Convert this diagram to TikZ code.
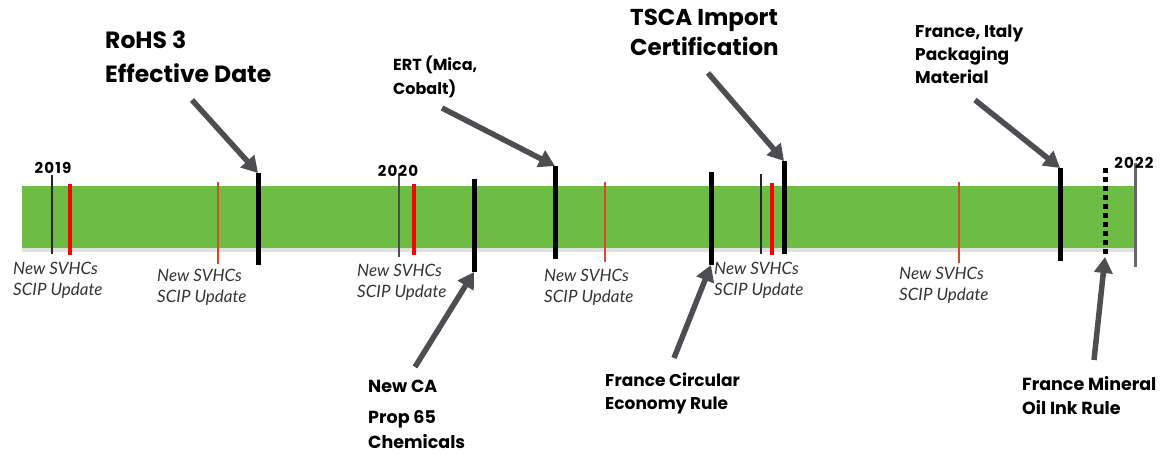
\documentclass[tikz,border=0pt]{standalone}
\usepackage{fontspec}
\setmainfont{Poppins}
\newfontfamily\svhcfont{Lato}
\usetikzlibrary{arrows.meta}
\definecolor{bargreen}{HTML}{6DBD45}
\definecolor{arrowgray}{HTML}{4D4D52}
\definecolor{svhcred}{HTML}{D84A2A}
\definecolor{svhctext}{HTML}{333333}
\newcommand{\yk}{\kern1.2pt}
\tikzset{
  biglabel/.style={font={\bfseries\fontsize{23.5}{34}\selectfont}, align=left, inner sep=0pt, anchor=north west},
  midlabel/.style={font={\bfseries\fontsize{17}{23}\selectfont}, align=left, inner sep=0pt, anchor=north west},
  yearlabel/.style={font={\bfseries\fontsize{15}{17}\selectfont}, inner sep=0pt, anchor=base},
  svhc/.style={font={\svhcfont\itshape\fontsize{17}{21}\selectfont}, text=svhctext, align=left, inner sep=0pt, anchor=north west},
  thickmark/.style={line width=5pt, black},
  thinmark/.style={line width=2pt, black!85},
  redmark/.style={line width=4pt, red},
  svhcmark/.style={line width=2pt, svhcred},
  dotmark/.style={line width=5pt, black, dash pattern=on 5pt off 4pt},
  endmark/.style={line width=3pt, black!60},
  callout/.style={line width=5.5pt, arrowgray, -{Triangle[length=16pt,width=18pt]}},
}
\begin{document}
\begin{tikzpicture}[x=1pt,y=-1pt]
\useasboundingbox (0,0) rectangle (1165,455);
% bar with shadow
\fill[black!12] (22,246) rectangle (1135,252);
\fill[bargreen] (22,186) rectangle (1135,248);

% marker coordinates
\coordinate (y19t) at (52,175);   \coordinate (y19b) at (52,254);
\coordinate (r1t) at (70,184);    \coordinate (r1b) at (70,255);
\coordinate (s2t) at (218,182);   \coordinate (s2b) at (218,264);
\coordinate (rohst) at (258,173); \coordinate (rohsb) at (258,265);
\coordinate (y20t) at (399,173);  \coordinate (y20b) at (399,257);
\coordinate (r3t) at (414,184);   \coordinate (r3b) at (414,255);
\coordinate (cat) at (474,179);   \coordinate (cab) at (474,272);
\coordinate (ertt) at (555,166);  \coordinate (ertb) at (555,259);
\coordinate (s4t) at (605,182);   \coordinate (s4b) at (605,262);
\coordinate (fct) at (711,172);   \coordinate (fcb) at (711,265);
\coordinate (tht) at (761,174);   \coordinate (thb) at (761,254);
\coordinate (r5t) at (772,183);   \coordinate (r5b) at (772,255);
\coordinate (tsct) at (784,161);  \coordinate (tscb) at (784,254);
\coordinate (s6t) at (959,182);   \coordinate (s6b) at (959,263);
\coordinate (fit) at (1060,168);  \coordinate (fib) at (1060,261);
\coordinate (mot) at (1105,168);  \coordinate (mob) at (1105,257);
\coordinate (y22t) at (1135,163); \coordinate (y22b) at (1135,267);

\draw[thinmark] (y19t) -- (y19b);
\draw[redmark] (r1t) -- (r1b);
\draw[svhcmark] (s2t) -- (s2b);
\draw[thickmark] (rohst) -- (rohsb);
\draw[thinmark, black!70] (y20t) -- (y20b);
\draw[redmark] (r3t) -- (r3b);
\draw[thickmark] (cat) -- (cab);
\draw[thickmark] (ertt) -- (ertb);
\draw[svhcmark] (s4t) -- (s4b);
\draw[thickmark] (fct) -- (fcb);
\draw[thinmark, line width=1.5pt] (tht) -- (thb);
\draw[redmark] (r5t) -- (r5b);
\draw[thickmark] (tsct) -- (tscb);
\draw[svhcmark] (s6t) -- (s6b);
\draw[thickmark] (fit) -- (fib);
\draw[dotmark] (mot) -- (mob);
\draw[endmark] (y22t) -- (y22b);

% years
\node[yearlabel] (y19) at (53,173) {2\yk0\yk1\yk9};
\node[yearlabel] (y20) at (398,176) {2\yk0\yk2\yk0};
\node[yearlabel] (y22) at (1134,168) {2\yk0\yk2\yk2};

% SVHC labels
\node[svhc] (sv1) at (13,262) {New SVHCs\\SCIP Update};
\node[svhc] (sv2) at (157,269) {New SVHCs\\SCIP Update};
\node[svhc] (sv3) at (357,264) {New SVHCs\\SCIP Update};
\node[svhc] (sv4) at (544,269) {New SVHCs\\SCIP Update};
\node[svhc] (sv5) at (714,262) {New SVHCs\\SCIP Update};
\node[svhc] (sv6) at (899,267) {New SVHCs\\SCIP Update};

% event labels
\node[biglabel] (rohs) at (105,31) {RoHS 3\\Effective Date};
\node[biglabel, font={\bfseries\fontsize{23}{30}\selectfont}] (tsca) at (630,9) {TSCA Import\\Certification};
\node[midlabel, font={\bfseries\fontsize{16}{24}\selectfont}] (ert) at (393,56) {ERT (Mica,\\Cobalt)};
\node[midlabel] (fi) at (915,25) {France, Italy\\Packaging\\Material};
\node[midlabel, font={\bfseries\fontsize{17.5}{25}\selectfont}] (ca) at (368,380) {New CA\\[6pt]Prop 65\\Chemicals};
\node[midlabel] (fc) at (605,373) {France Circular\\Economy Rule};
\node[midlabel, font={\bfseries\fontsize{17.5}{24}\selectfont}] (mo) at (1022,376) {France Mineral\\Oil Ink Rule};

% arrow start points
\coordinate (a1) at (192,100);
\coordinate (a2) at (442,108);
\coordinate (a3) at (708,73);
\coordinate (a4) at (975,100);
\coordinate (a5) at (415,367);
\coordinate (a6) at (674,358);
\coordinate (a7) at (1094,360);

\draw[callout] (a1) -- (rohst);
\draw[callout] (a2) -- (ertt);
\draw[callout] (a3) -- (tsct);
\draw[callout] (a4) -- (fit);
\draw[callout] (a5) -- (cab);
\draw[callout] (a6) -- (fcb);
\draw[callout] (a7) -- (mob);
\end{tikzpicture}
\end{document}
